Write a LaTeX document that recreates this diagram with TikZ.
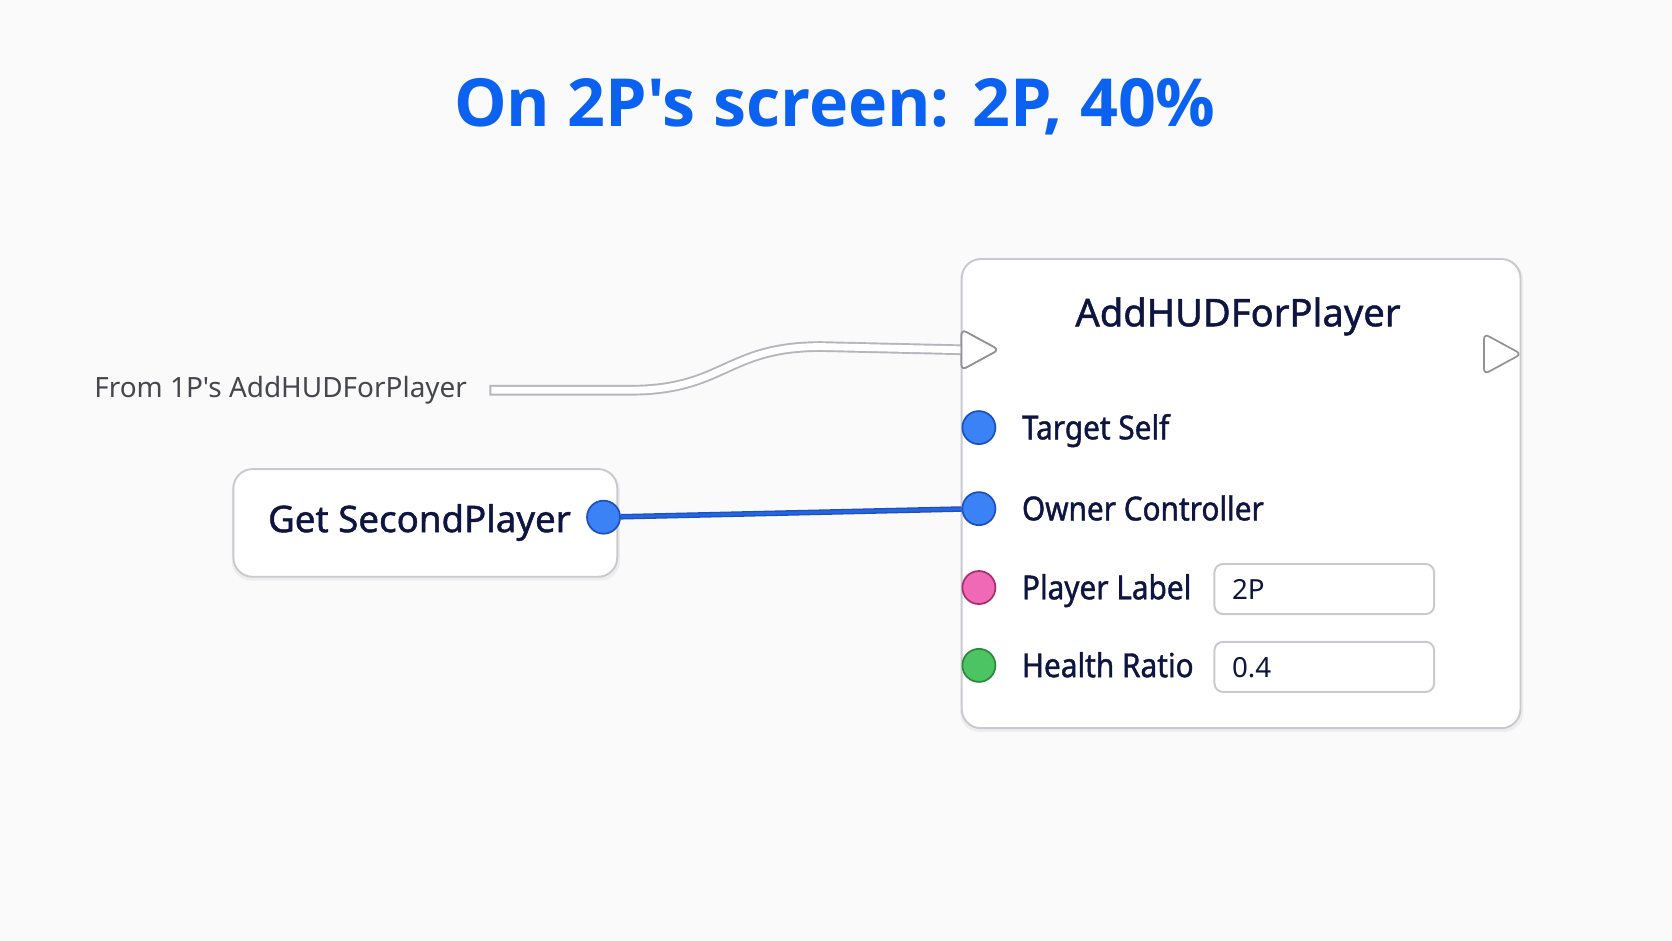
\documentclass[tikz,border=0pt]{standalone}
\usepackage{fontspec}
\setmainfont{Noto Sans}[Ligatures=TeXOff]
\newfontfamily\titlefont{Open Sans}[Ligatures=TeXOff]
\newfontfamily\medfont{Noto Sans}[Ligatures=TeXOff, FakeBold=1.2]
\newfontfamily\labelfont{Noto Sans}[Ligatures=TeXOff, FakeBold=1.2, FakeStretch=0.9]
\usetikzlibrary{shapes.geometric}
\definecolor{bg}{HTML}{FAFAFB}
\definecolor{titleblue}{HTML}{0B62F0}
\definecolor{navy}{HTML}{0E1540}
\definecolor{edgegray}{HTML}{C8CAD0}
\definecolor{wiregray}{HTML}{B4B6BC}
\definecolor{pinblue}{HTML}{3B82F6}
\definecolor{pinblueedge}{HTML}{1C4FC0}
\definecolor{pinpink}{HTML}{EF69B6}
\definecolor{pinpinkedge}{HTML}{A8306C}
\definecolor{pingreen}{HTML}{4CC463}
\definecolor{pingreenedge}{HTML}{2A8A3C}
\definecolor{wireblue}{HTML}{1F5FD8}
\definecolor{fromgray}{HTML}{45474C}
\tikzset{
  card/.style={rectangle, draw=edgegray, line width=0.9pt, fill=white, rounded corners=9pt, anchor=north west, inner sep=0pt},
  shadowcard/.style={rectangle, fill=black, opacity=0.05, rounded corners=9pt, anchor=north west, inner sep=0pt, draw=none},
  pin/.style={circle, minimum size=15.5pt, inner sep=0pt, line width=0.8pt},
  bluepin/.style={pin, fill=pinblue, draw=pinblueedge},
  pinkpin/.style={pin, fill=pinpink, draw=pinpinkedge},
  greenpin/.style={pin, fill=pingreen, draw=pingreenedge},
  execpin/.style={isosceles triangle, isosceles triangle stretches=true, minimum width=19pt, minimum height=17.5pt, inner sep=0pt, draw=wiregray!80!black, fill=white, line width=0.8pt, rounded corners=2.5pt},
  pinlabel/.style={anchor=base west, text=navy, font=\labelfont\fontsize{15.5}{18}\selectfont, inner sep=0pt},
  valbox/.style={rectangle, draw=edgegray, line width=0.9pt, fill=white, rounded corners=4pt, minimum width=103pt, minimum height=23.5pt, anchor=north west, inner sep=0pt},
  valtext/.style={anchor=base west, text=navy, font=\fontsize{13}{16}\selectfont, inner sep=0pt}
}
\begin{document}
\begin{tikzpicture}[x=0.5pt,y=-0.5pt]
\fill[bg] (0,0) rectangle (1568,882);
\useasboundingbox (0,0) rectangle (1568,882);

% title
\node[anchor=base, text=titleblue, font=\titlefont\bfseries\fontsize{31.1}{37}\selectfont, inner sep=0pt] (title) at (783,119) {On 2P's screen: 2P, 40\%};

% source label
\node[anchor=base west, text=fromgray, font=\fontsize{13.1}{15}\selectfont, inner sep=0pt] (fromlabel) at (88,373) {From 1P's AddHUDForPlayer};
\coordinate (src) at (459,366);

% main node shadow + node
\node[shadowcard, minimum width=264pt, minimum height=221pt] (mainshadow) at (900,244) {};
\node[card, minimum width=262pt, minimum height=220pt] (main) at (901,242) {};
\node[anchor=base, text=navy, font=\medfont\fontsize{17.9}{22}\selectfont, inner sep=0pt] (maintitle) at (1161,306) {AddHUDForPlayer};

% exec pins
\node[execpin] (execout) at (1403,332) {};

% data pins
\node[bluepin] (pself) at (918,401) {};
\node[bluepin] (powner) at (918,477) {};
\node[pinkpin] (plabel) at (918,551) {};
\node[greenpin] (phealth) at (918,624) {};

\node[pinlabel] (lself) at (958,412) {Target Self};
\node[pinlabel] (lowner) at (958,488) {Owner Controller};
\node[pinlabel] (llabel) at (958,562) {Player Label};
\node[pinlabel] (lhealth) at (958,635) {Health Ratio};

\node[valbox] (vlabel) at (1138,528) {};
\node[valbox] (vhealth) at (1138,601) {};
\node[valtext] (tlabel) at (1155,562) {2P};
\node[valtext] (thealth) at (1155,635) {0.4};

% get second player node
\node[shadowcard, minimum width=182pt, minimum height=51.5pt] (gsshadow) at (217,441) {};
\node[card, minimum width=180pt, minimum height=50.5pt] (gs) at (218,439) {};
\node[anchor=base west, text=navy, font=\medfont\fontsize{17.2}{21}\selectfont, inner sep=0pt] (gstext) at (251,499) {Get SecondPlayer};
\node[bluepin] (gsout) at (566,485) {};

% exec wire (white with grey outline), ending at the exec input pin
\node[execpin] (execin) at (913,328) {};
\draw[wiregray, line width=5pt] (src) -- (590,366) .. controls (680,366) and (680,325) .. (770,325) -- (execin.west);
\draw[white, line width=3.2pt, shorten <=0.9pt] (src) -- (590,366) .. controls (680,366) and (680,325) .. (770,325) -- (execin.west);
\node[execpin] (execintop) at (913,328) {};

% data wire
\draw[pinblueedge, line width=2.6pt] (gsout) -- (powner);
\draw[wireblue!80!pinblue, line width=1.4pt] (gsout) -- (powner);
\end{tikzpicture}
\end{document}
